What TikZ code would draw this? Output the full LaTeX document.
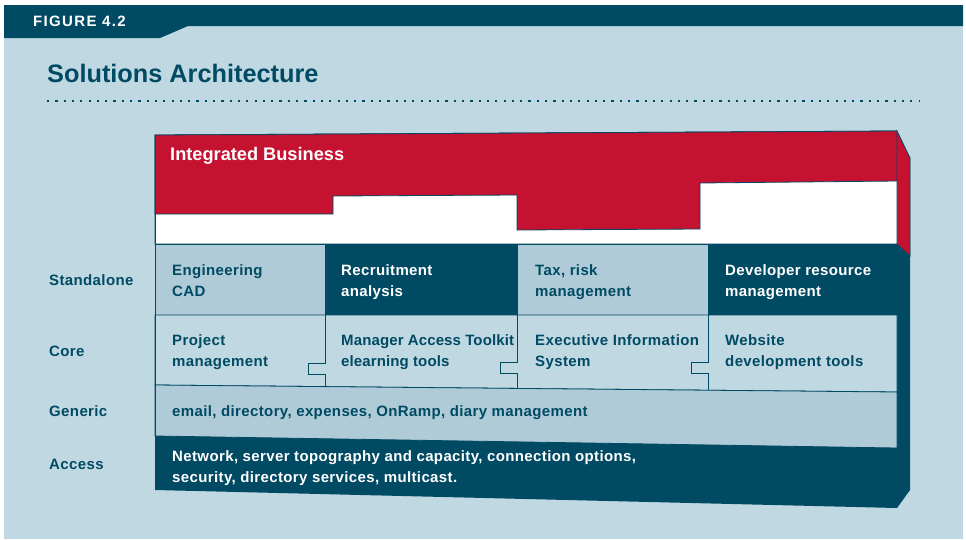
\documentclass[tikz,border=0pt]{standalone}
\usepackage{fontspec}
\setmainfont{Liberation Sans}
\usepackage{tikz}

\definecolor{paleblue}{RGB}{191,216,225}
\definecolor{cellblue}{RGB}{175,203,216}
\definecolor{coreblue}{RGB}{192,216,226}
\definecolor{deepteal}{RGB}{0,74,99}
\definecolor{archred}{RGB}{196,18,48}

\begin{document}
\begin{tikzpicture}[x=1pt,y=-1pt,
  edge/.style={draw=deepteal,line width=0.8pt},
  rowlabel/.style={anchor=base west,inner sep=0pt,text=deepteal,font=\addfontfeatures{LetterSpace=2.5}\fontsize{15}{21}\selectfont\bfseries},
  celltext/.style={rowlabel,align=left},
  darktext/.style={celltext,text=white}]
\useasboundingbox (0,0) rectangle (966,539);

% backdrop and header band
\fill[paleblue] (4,5) rectangle (963,539);
\fill[deepteal] (4,5) -- (963,5) -- (963,26) -- (188,26) -- (160,38) -- (4,38) -- cycle;
\node[anchor=base west,inner sep=0pt,text=white,font=\addfontfeatures{LetterSpace=9}\fontsize{15}{18}\selectfont\bfseries] (figno) at (33,26) {FIGURE 4.2};
\node[anchor=base west,inner sep=0pt,text=deepteal,font=\fontsize{25.3}{30}\selectfont\bfseries] (title) at (47,82) {Solutions Architecture};
\draw[deepteal,line width=2.2pt,dash pattern=on 2.2pt off 6.1pt] (47,101) -- (920,101);

% side face
\fill[deepteal] (897,131) -- (910,158) -- (910,490) -- (897,508) -- cycle;
\filldraw[fill=archred,draw=deepteal,line width=0.8pt] (897,131) -- (910,158) -- (910,256) -- (897,244) -- cycle;

% integrated business layer
\filldraw[fill=white,edge] (155,135) -- (897,131) -- (897,244) -- (155,244) -- cycle;
\filldraw[fill=archred,edge] (155,135) -- (897,131) -- (897,181) -- (700,183) -- (700,229)
  -- (517,230) -- (517,195) -- (333,196) -- (333,214) -- (155,214) -- cycle;
\node[anchor=base west,inner sep=0pt,text=white,font=\fontsize{18.2}{22}\selectfont\bfseries] (intbiz) at (170,160) {Integrated Business};

% standalone row
\filldraw[fill=cellblue,edge] (155,244) rectangle (325,315);
\filldraw[fill=deepteal,edge] (325,244) rectangle (517,315);
\filldraw[fill=cellblue,edge] (517,244) rectangle (708,315);
\filldraw[fill=deepteal,edge] (708,244) rectangle (897,315);

% core row with puzzle joints
\filldraw[fill=coreblue,edge] (155,315) -- (897,315) -- (897,392) -- (155,385) -- cycle;
\draw[edge] (325,315) -- (325,363) -- (308,363) -- (308,374) -- (325,374) -- (325,387);
\draw[edge] (517,315) -- (517,362) -- (500,362) -- (500,373) -- (517,373) -- (517,388);
\draw[edge] (708,315) -- (708,362) -- (691,362) -- (691,373) -- (708,373) -- (708,390);

% generic and access rows
\filldraw[fill=cellblue,edge] (155,385) -- (897,392) -- (897,448) -- (155,436) -- cycle;
\fill[deepteal] (155,436) -- (897,448) -- (897,508) -- (155,490) -- cycle;
\draw[edge] (155,135) -- (155,490);

% row labels
\node[rowlabel] (standalone) at (49,285) {Standalone};
\node[rowlabel] (core) at (49,356) {Core};
\node[rowlabel] (generic) at (49,416) {Generic};
\node[rowlabel] (access) at (49,469) {Access};

% cell texts (base = last line)
\node[celltext] (engcad) at (172,296) {Engineering\\CAD};
\node[darktext] (recruit) at (341,296) {Recruitment\\analysis};
\node[celltext] (taxrisk) at (535,296) {Tax, risk\\management};
\node[darktext] (devres) at (725,296) {Developer resource\\management};
\node[celltext] (projmgmt) at (172,366) {Project\\management};
\node[celltext,font=\addfontfeatures{LetterSpace=0.8}\fontsize{15}{21}\selectfont\bfseries] (mgrtool) at (341,366) {Manager Access Toolkit\\elearning tools};
\node[celltext] (execinfo) at (535,366) {Executive Information\\System};
\node[celltext] (webdev) at (725,366) {Website\\development tools};
\node[celltext] (genericsvc) at (172,416) {email, directory, expenses, OnRamp, diary management};
\node[darktext] (accesssvc) at (172,482) {Network, server topography and capacity, connection options,\\security, directory services, multicast.};

\end{tikzpicture}
\end{document}
